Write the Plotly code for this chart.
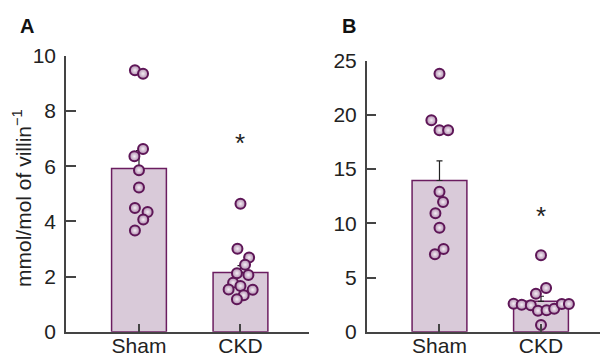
import plotly.graph_objects as go

categories = ["Sham", "CKD"]

# Panel A (mmol/mol of villin^-1)
a_means = [5.92, 2.15]
a_sem = [0.65, 0.25]
a_sham = [9.48, 9.36, 6.63, 6.36, 5.86, 5.23, 4.49, 4.34, 4.07, 3.67]
a_sham_jit = [-0.04, 0.04, 0.04, -0.045, 0.0, 0.0, -0.04, 0.085, 0.042, -0.04]
a_ckd = [4.64, 3.01, 2.69, 2.43, 2.12, 2.06, 1.78, 1.66, 1.53, 1.52, 1.32, 1.18]
a_ckd_jit = [0.0, -0.03, 0.085, 0.045, -0.035, 0.078, -0.073, 0.0, -0.117, 0.12, 0.032, -0.035]
a_star = 6.85

# Panel B
b_means = [13.95, 2.8]
b_sem = [1.8, 0.47]
b_sham = [23.8, 19.5, 18.58, 18.58, 12.92, 11.96, 10.92, 9.59, 7.63, 7.14]
b_sham_jit = [0.0, -0.08, 0.0, 0.085, 0.0, 0.035, -0.04, 0.0, 0.04, -0.045]
b_ckd = [7.05, 4.03, 3.51, 2.58, 2.49, 2.43, 1.94, 1.97, 2.12, 2.56, 2.56, 0.62]
b_ckd_jit = [0.0, 0.05, -0.05, -0.27, -0.19, -0.10, -0.03, 0.055, 0.13, 0.205, 0.275, 0.0]
b_star = 10.7

y_title = "mmol/mol of villin<sup>−1</sup>"

FONT = "Liberation Sans, Arial, sans-serif"
BAR_FILL = "#d9cad9"
BAR_LINE = "#6b1d60"
DOT_FILL = "#b08aae"
DOT_LINE = "#5e1657"
AX = "#444444"

# page body has an 8px margin; size the figure to fill the rest of the window
OFF = 8
W, H = 608 - OFF, 358 - OFF

def fx(px):
    return (px - OFF) / W

def fy(py):
    return 1 - (py - OFF) / H

fig = go.Figure()

def add_panel(xa, ya, means, sem, sham, sham_j, ckd, ckd_j):
    xs = list(range(len(categories)))
    fig.add_trace(go.Bar(
        x=xs, y=means, width=0.54, xaxis=xa, yaxis=ya,
        marker=dict(color=BAR_FILL, line=dict(color=BAR_LINE, width=1.5)),
        error_y=dict(type="data", array=sem, arrayminus=[0] * len(sem), symmetric=False,
                     color="#222222", thickness=1.2, width=3),
        showlegend=False, hoverinfo="skip"))
    for i, (vals, jit) in enumerate([(sham, sham_j), (ckd, ckd_j)]):
        fig.add_trace(go.Scatter(
            x=[i + j for j in jit], y=vals, mode="markers", xaxis=xa, yaxis=ya,
            cliponaxis=False,
            marker=dict(size=10, color=DOT_FILL,
                        gradient=dict(type="radial", color="#f4eef4"),
                        line=dict(color=DOT_LINE, width=2)),
            showlegend=False, hoverinfo="skip"))

add_panel("x", "y", a_means, a_sem, a_sham, a_sham_jit, a_ckd, a_ckd_jit)
add_panel("x2", "y2", b_means, b_sem, b_sham, b_sham_jit, b_ckd, b_ckd_jit)

xcommon = dict(tickmode="array", tickvals=[0, 1], ticktext=categories, automargin=False,
               showline=True, linecolor=AX, linewidth=1.5, ticks="inside",
               ticklen=8, tickcolor=AX, tickwidth=1.5, showgrid=False, zeroline=False,
               ticklabelstandoff=-6,
               tickfont=dict(family=FONT, size=21, color="#222222"))
ycommon = dict(showline=True, linecolor=AX, linewidth=1.5, ticks="inside", automargin=False,
               ticklen=10, tickcolor=AX, tickwidth=1.5, showgrid=False, zeroline=False,
               ticklabelstandoff=4,
               tickfont=dict(family=FONT, size=21, color="#222222"))

fig.update_layout(
    width=W, height=H,
    margin=dict(l=0, r=0, t=0, b=0, autoexpand=False),
    paper_bgcolor="white", plot_bgcolor="white",
    barmode="overlay",
    xaxis=dict(domain=[fx(66), fx(309)], range=[-0.719, 1.675], anchor="y", **xcommon),
    yaxis=dict(domain=[fy(331.7), fy(56)], range=[0, 10], dtick=2, anchor="x", **ycommon),
    xaxis2=dict(domain=[fx(366.7), 1.0], range=[-0.717, 1.66], anchor="y2", **xcommon),
    yaxis2=dict(domain=[fy(331.7), fy(60.7)], range=[0, 25], dtick=5, anchor="x2", **ycommon),
)

for txt, px, py in [("<b>A</b>", 27, 26), ("<b>B</b>", 349, 26)]:
    fig.add_annotation(text=txt, x=fx(px), y=fy(py), xref="paper", yref="paper",
                       showarrow=False, xanchor="center", yanchor="middle",
                       font=dict(family=FONT, size=20, color="#111111"))

fig.add_annotation(text=y_title, x=fx(22), y=fy(198), xref="paper", yref="paper",
                   textangle=-90, showarrow=False, xanchor="center", yanchor="middle",
                   font=dict(family=FONT, size=21, color="#222222"))

fig.add_annotation(text="*", x=1, y=a_star, xref="x", yref="y", showarrow=False,
                   yanchor="middle", font=dict(family=FONT, size=26, color="#222222"))
fig.add_annotation(text="*", x=1, y=b_star, xref="x2", yref="y2", showarrow=False,
                   yanchor="middle", font=dict(family=FONT, size=26, color="#222222"))

fig.write_html("out.html")
